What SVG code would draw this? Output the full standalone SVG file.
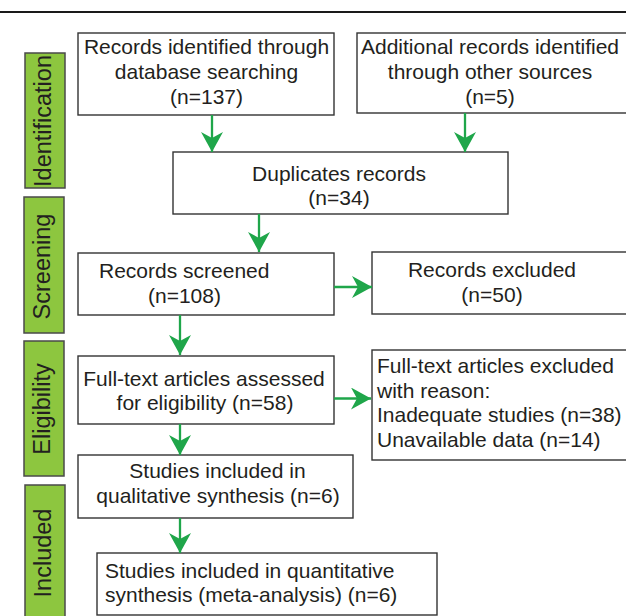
<svg xmlns="http://www.w3.org/2000/svg" width="626" height="616" viewBox="0 0 626 616">
  <defs>
    <marker id="ah" viewBox="0 0 20 22" refX="20" refY="11" markerWidth="20" markerHeight="22" markerUnits="userSpaceOnUse" orient="auto">
      <path d="M0,0 L20,11 L0,22 L6,11 Z" fill="#1fa64a"/>
    </marker>
  </defs>
  <style>
    .box { fill: #ffffff; stroke: #333333; stroke-width: 1.4; }
    .bar { fill: #8dc63f; stroke: #4a4a4a; stroke-width: 1.5; }
    .t { font-family: "Liberation Sans", Arial, sans-serif; font-size: 21px; fill: #231f20; }
    .c { text-anchor: middle; }
    .lbl { font-family: "Liberation Sans", Arial, sans-serif; font-size: 23.5px; fill: #231f20; text-anchor: middle; }
    .arr { stroke: #1fa64a; stroke-width: 2.3; fill: none; marker-end: url(#ah); }
  </style>
  <rect width="626" height="616" fill="#ffffff"/>
  <line x1="0" y1="12" x2="626" y2="12" stroke="#1a1a1a" stroke-width="2.2"/>

  <g id="stage-identification">
    <rect class="bar" x="25" y="53" width="40" height="135"/>
    <text class="lbl" transform="translate(50.5,121) rotate(-90)">Identification</text>
  </g>
  <g id="stage-screening">
    <rect class="bar" x="24" y="197" width="40" height="136"/>
    <text class="lbl" transform="translate(50,266.5) rotate(-90)">Screening</text>
  </g>
  <g id="stage-eligibility">
    <rect class="bar" x="24" y="341" width="40" height="135"/>
    <text class="lbl" transform="translate(50,409) rotate(-90)">Eligibility</text>
  </g>
  <g id="stage-included">
    <rect class="bar" x="25" y="485" width="40" height="140"/>
    <text class="lbl" transform="translate(50.5,553) rotate(-90)">Included</text>
  </g>

  <g id="n-database">
    <rect class="box" x="78" y="33" width="256" height="82"/>
    <text class="t c" x="206.5" y="54">Records identified through</text>
    <text class="t c" x="206.5" y="79">database searching</text>
    <text class="t c" x="206.5" y="103.5">(n=137)</text>
  </g>
  <g id="n-other">
    <rect class="box" x="357" y="33" width="270" height="80"/>
    <text class="t c" x="490" y="54">Additional records identified</text>
    <text class="t c" x="490" y="79">through other sources</text>
    <text class="t c" x="490" y="103.5">(n=5)</text>
  </g>
  <g id="n-duplicates">
    <rect class="box" x="173" y="152" width="335" height="62"/>
    <text class="t c" x="339" y="181">Duplicates records</text>
    <text class="t c" x="339" y="205">(n=34)</text>
  </g>
  <g id="n-screened">
    <rect class="box" x="78" y="253" width="256" height="62"/>
    <text class="t" x="99" y="278">Records screened</text>
    <text class="t" x="148" y="302.5">(n=108)</text>
  </g>
  <g id="n-excluded">
    <rect class="box" x="372" y="252" width="255" height="62"/>
    <text class="t c" x="492" y="277">Records excluded</text>
    <text class="t c" x="492" y="302">(n=50)</text>
  </g>
  <g id="n-fulltext">
    <rect class="box" x="78" y="356" width="256" height="68"/>
    <text class="t c" x="204" y="386">Full-text articles assessed</text>
    <text class="t c" x="205" y="410">for eligibility (n=58)</text>
  </g>
  <g id="n-fulltext-excluded">
    <rect class="box" x="372" y="350" width="255" height="110"/>
    <text class="t" x="377" y="373">Full-text articles excluded</text>
    <text class="t" x="377" y="397.5">with reason:</text>
    <text class="t" x="377" y="422">Inadequate studies (n=38)</text>
    <text class="t" x="377" y="447">Unavailable data (n=14)</text>
  </g>
  <g id="n-qualitative">
    <rect class="box" x="78" y="455" width="275" height="63"/>
    <text class="t c" x="217.5" y="477.5">Studies included in</text>
    <text class="t c" x="218" y="502.5">qualitative synthesis (n=6)</text>
  </g>
  <g id="n-quantitative">
    <rect class="box" x="97" y="553" width="340" height="62"/>
    <text class="t" x="105" y="577.5">Studies included in quantitative</text>
    <text class="t" x="105" y="602">synthesis (meta-analysis) (n=6)</text>
  </g>

  <g id="connectors">
    <line class="arr" x1="212" y1="115" x2="212" y2="152"/>
    <line class="arr" x1="465" y1="113" x2="465" y2="152"/>
    <line class="arr" x1="259" y1="214" x2="259" y2="252"/>
    <line class="arr" x1="334" y1="287" x2="372" y2="287"/>
    <line class="arr" x1="180" y1="315" x2="180" y2="355"/>
    <line class="arr" x1="334" y1="398.5" x2="371" y2="398.5"/>
    <line class="arr" x1="180" y1="424" x2="180" y2="455"/>
    <line class="arr" x1="180" y1="518" x2="180" y2="553"/>
  </g>
</svg>
